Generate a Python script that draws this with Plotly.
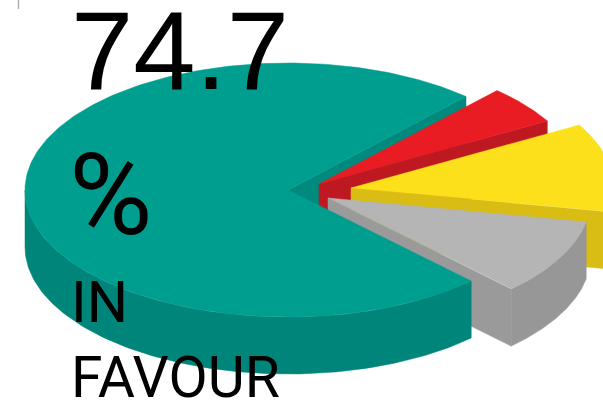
import numpy as np
import plotly.graph_objects as go

# Data
categories = ["In favour", "Red share", "Yellow share", "Grey share"]
shares = [74.1, 4.9, 11.3, 9.7]
headline_lines = ["74.7", "%", "IN", "FAVOUR"]

# Styles
top_colors = ["#009E8F", "#E91C24", "#FBE01B", "#B5B5B5"]
side_colors = ["#00857B", "#BE1821", "#D9BD14", "#979797"]
face_colors = ["#008A7E", "#BE1821", "#D9BD14", "#9A9A9A"]

# Pie projection (pixels of the 603x401 frame)
CX, CY, RX, RY, DEPTH = 288, 190, 263, 127, 57
START_DEG = 47.4
EXPLODE = [(0, 0), (31, -6), (63, -2), (40, 8)]


def arc(lo, hi, ox, oy, dz=0, n=120):
    t = np.radians(np.linspace(lo, hi, n))
    return CX + ox + RX * np.cos(t), CY + oy + dz - RY * np.sin(t)


def apex(ox, oy, dz=0):
    return CX + ox, CY + oy + dz


# Angular spans: slices run clockwise from the start, the big one closes the circle
spans = [s * 3.6 for s in shares]
bounds = {}
a = START_DEG
for i in [1, 2, 3, 0]:
    bounds[i] = (a - spans[i], a)
    a -= spans[i]

fig = go.Figure()


def poly(xs, ys, color, name):
    fig.add_trace(go.Scatter(x=xs, y=ys, mode="lines", fill="toself", fillcolor=color,
                             line=dict(color=color, width=0.5), hoverinfo="skip",
                             name=name, showlegend=False))


def cut_face(i):
    lo, hi = bounds[i]
    ox, oy = EXPLODE[i]
    # face on the clockwise side of the slice, the side turned to the viewer
    ex, ey = arc(lo, lo, ox, oy, n=1)
    ax, ay = apex(ox, oy)
    poly([ax, ex[0], ex[0], ax, ax], [ay, ey[0], ey[0] + DEPTH, ay + DEPTH, ay], face_colors[i], categories[i])


def rim(i):
    lo, hi = bounds[i]
    ox, oy = EXPLODE[i]
    v_lo, v_hi = max(lo, -180), min(hi, 0)
    if v_hi <= v_lo:
        return
    tx, ty = arc(v_lo, v_hi, ox, oy)
    poly(np.r_[tx, tx[::-1], tx[0]], np.r_[ty, ty[::-1] + DEPTH, ty[0]], side_colors[i], categories[i])


def top(i):
    lo, hi = bounds[i]
    ox, oy = EXPLODE[i]
    tx, ty = arc(lo, hi, ox, oy, n=300)
    ax, ay = apex(ox, oy)
    poly(np.r_[ax, tx, ax], np.r_[ay, ty, ay], top_colors[i], categories[i])


cut_face(0)
for i in [1, 2, 3]:
    cut_face(i)
    rim(i)
    top(i)
rim(0)
top(0)

# small grey tick at the top-left of the frame
fig.add_shape(type="line", x0=18.5, x1=18.5, y0=0, y1=9, line=dict(color="#B0B0B0", width=1.5))

text_layout = [(71, 50, 112, "Liberation Sans"), (69, 195, 114, "Roboto"),
               (71, 302, 58, "Roboto"), (71, 377, 57, "Roboto")]
for line, (x, y, size, fam) in zip(headline_lines, text_layout):
    fig.add_annotation(x=x, y=y, text=line, showarrow=False, xanchor="left", yanchor="middle",
                       font=dict(family=fam, size=size, color="#000000"), xref="x", yref="y",
                       borderpad=0, borderwidth=0)

fig.update_layout(
    width=603, height=401, margin=dict(l=0, r=0, t=0, b=0),
    paper_bgcolor="white", plot_bgcolor="white", showlegend=False,
    xaxis=dict(range=[0, 603], visible=False, fixedrange=True),
    yaxis=dict(range=[401, 0], visible=False, fixedrange=True),
)

fig.write_html("out.html", config={"displayModeBar": False},
               post_script="document.body.style.margin='0';document.body.style.overflow='hidden';")
